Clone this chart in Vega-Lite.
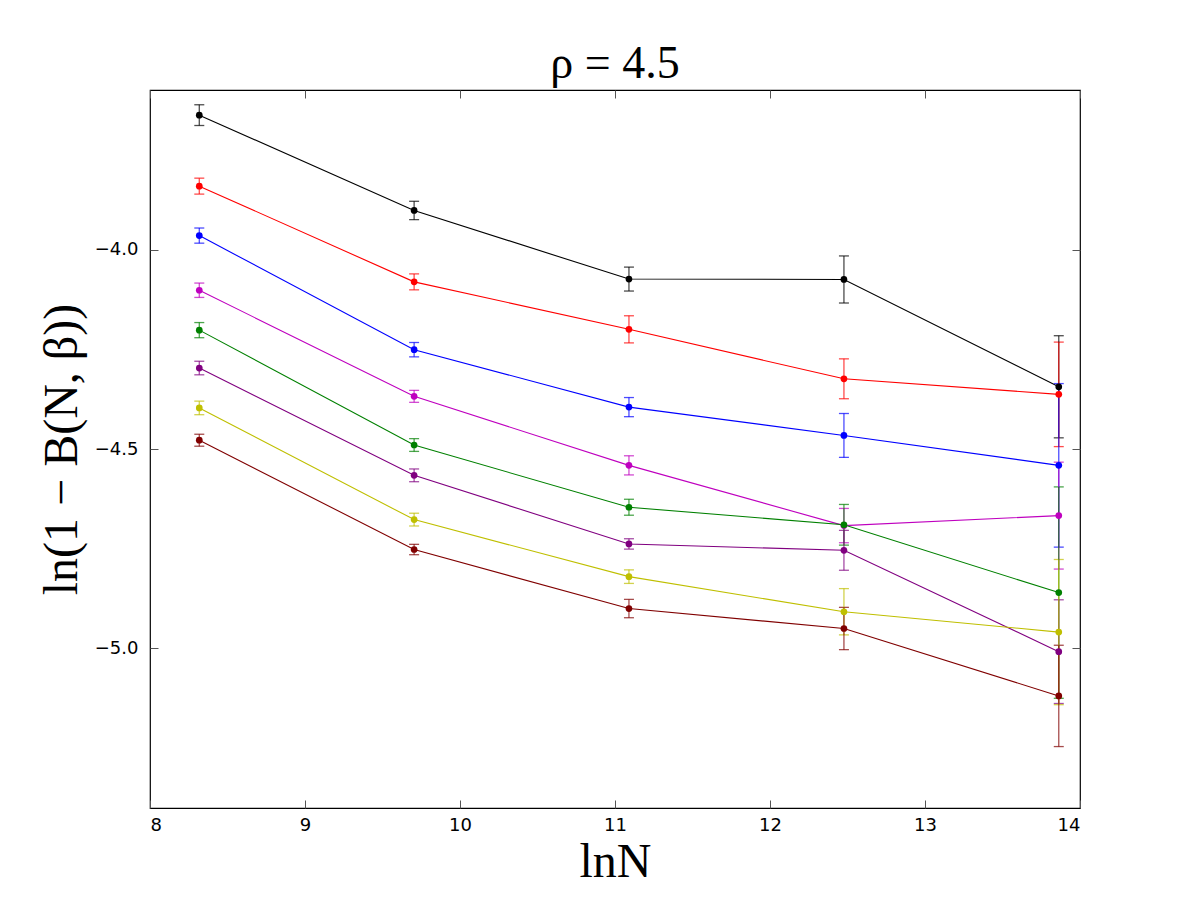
{
  "$schema": "https://vega.github.io/schema/vega-lite/v6.json",
  "autosize": "none",
  "width": 930,
  "height": 718,
  "padding": {"left": 150, "top": 90, "right": 120, "bottom": 92},
  "background": "white",
  "title": {"text": "ρ = 4.5", "font": "Liberation Serif", "fontSize": 46, "fontWeight": "normal", "fontStyle": "normal", "color": "black", "offset": 2},
  "config": {
    "view": {"stroke": "black", "strokeWidth": 1.2},
    "axis": {"grid": false, "domain": false, "tickColor": "#555555", "tickSize": -8, "tickWidth": 1, "labelFont": "DejaVu Sans", "labelFontSize": 18, "labelColor": "black", "titleFont": "Liberation Serif", "titleFontSize": 48, "titleFontWeight": "normal", "titleColor": "black"}
  },
  "data": {"values": [
    {"s": "black", "x": 8.318, "y": -3.663, "e": 0.026},
    {"s": "black", "x": 9.704, "y": -3.902, "e": 0.023},
    {"s": "black", "x": 11.090, "y": -4.074, "e": 0.030},
    {"s": "black", "x": 12.477, "y": -4.075, "e": 0.059},
    {"s": "black", "x": 13.863, "y": -4.344, "e": 0.128},
    {"s": "red", "x": 8.318, "y": -3.841, "e": 0.020},
    {"s": "red", "x": 9.704, "y": -4.081, "e": 0.020},
    {"s": "red", "x": 11.090, "y": -4.200, "e": 0.034},
    {"s": "red", "x": 12.477, "y": -4.324, "e": 0.050},
    {"s": "red", "x": 13.863, "y": -4.363, "e": 0.131},
    {"s": "blue", "x": 8.318, "y": -3.965, "e": 0.019},
    {"s": "blue", "x": 9.704, "y": -4.251, "e": 0.018},
    {"s": "blue", "x": 11.090, "y": -4.395, "e": 0.024},
    {"s": "blue", "x": 12.477, "y": -4.466, "e": 0.055},
    {"s": "blue", "x": 13.863, "y": -4.541, "e": 0.205},
    {"s": "magenta", "x": 8.318, "y": -4.102, "e": 0.018},
    {"s": "magenta", "x": 9.704, "y": -4.368, "e": 0.015},
    {"s": "magenta", "x": 11.090, "y": -4.541, "e": 0.024},
    {"s": "magenta", "x": 12.477, "y": -4.692, "e": 0.043},
    {"s": "magenta", "x": 13.863, "y": -4.667, "e": 0.134},
    {"s": "green", "x": 8.318, "y": -4.202, "e": 0.019},
    {"s": "green", "x": 9.704, "y": -4.490, "e": 0.016},
    {"s": "green", "x": 11.090, "y": -4.646, "e": 0.020},
    {"s": "green", "x": 12.477, "y": -4.690, "e": 0.051},
    {"s": "green", "x": 13.863, "y": -4.860, "e": 0.265},
    {"s": "purple", "x": 8.318, "y": -4.297, "e": 0.017},
    {"s": "purple", "x": 9.704, "y": -4.566, "e": 0.016},
    {"s": "purple", "x": 11.090, "y": -4.738, "e": 0.013},
    {"s": "purple", "x": 12.477, "y": -4.754, "e": 0.050},
    {"s": "purple", "x": 13.863, "y": -5.008, "e": 0.130},
    {"s": "yellow", "x": 8.318, "y": -4.397, "e": 0.017},
    {"s": "yellow", "x": 9.704, "y": -4.677, "e": 0.016},
    {"s": "yellow", "x": 11.090, "y": -4.820, "e": 0.017},
    {"s": "yellow", "x": 12.477, "y": -4.908, "e": 0.058},
    {"s": "yellow", "x": 13.863, "y": -4.959, "e": 0.182},
    {"s": "darkred", "x": 8.318, "y": -4.478, "e": 0.015},
    {"s": "darkred", "x": 9.704, "y": -4.752, "e": 0.013},
    {"s": "darkred", "x": 11.090, "y": -4.900, "e": 0.023},
    {"s": "darkred", "x": 12.477, "y": -4.950, "e": 0.053},
    {"s": "darkred", "x": 13.863, "y": -5.119, "e": 0.127}
  ]},
  "layer": [
    {
      "encoding": {
        "x": {"field": "x", "type": "quantitative", "scale": {"domain": [8, 14], "nice": false, "zero": false}, "axis": {"title": "lnN", "values": [8, 9, 10, 11, 12, 13, 14], "labelPadding": 16, "titlePadding": 4}},
        "y": {"field": "y", "type": "quantitative", "scale": {"domain": [-5.4, -3.6], "nice": false, "zero": false}, "axis": {"title": "ln(1 − B(N, β))", "values": [-5.0, -4.5, -4.0], "format": ".1f", "labelPadding": 20, "titlePadding": 8}},
        "color": {"field": "s", "type": "nominal", "legend": null, "scale": {"domain": ["black", "red", "blue", "magenta", "green", "purple", "yellow", "darkred"], "range": ["#000000", "#ff0000", "#0000ff", "#bf00bf", "#008000", "#800080", "#bfbf00", "#800000"]}}
      },
      "layer": [
        {"mark": {"type": "line", "strokeWidth": 1.1}, "encoding": {}},
        {"mark": {"type": "errorbar", "ticks": {"size": 10, "opacity": 0.7}, "rule": {"opacity": 0.7}, "thickness": 1.3}, "encoding": {"yError": {"field": "e"}}},
        {"mark": {"type": "circle", "size": 45, "opacity": 1}, "encoding": {}}
      ]
    },
    {
      "mark": {"type": "point", "opacity": 0},
      "encoding": {
        "x": {"field": "x", "type": "quantitative", "axis": {"orient": "top", "labels": false, "title": null, "values": [8, 9, 10, 11, 12, 13, 14]}},
        "y": {"field": "y", "type": "quantitative", "axis": {"orient": "right", "labels": false, "title": null, "values": [-5.0, -4.5, -4.0]}}
      }
    }
  ],
  "resolve": {"axis": {"x": "independent", "y": "independent"}}
}
